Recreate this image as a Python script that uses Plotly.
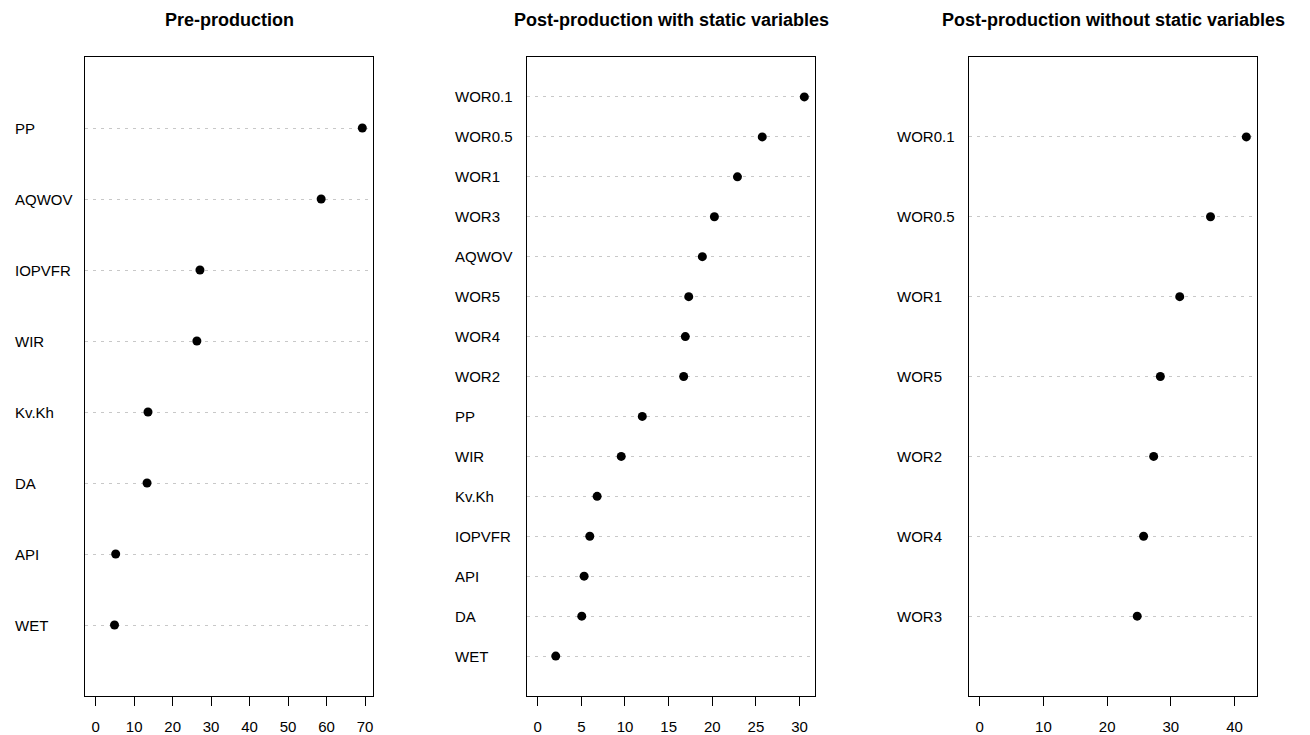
import plotly.graph_objects as go

W, H = 1310, 735

titles = ["Pre-production",
          "Post-production with static variables",
          "Post-production without static variables"]

pre_labels = ["PP", "AQWOV", "IOPVFR", "WIR", "Kv.Kh", "DA", "API", "WET"]
pre_values = [69.3, 58.6, 27.1, 26.3, 13.6, 13.35, 5.2, 4.9]

post_static_labels = ["WOR0.1", "WOR0.5", "WOR1", "WOR3", "AQWOV", "WOR5", "WOR4",
                      "WOR2", "PP", "WIR", "Kv.Kh", "IOPVFR", "API", "DA", "WET"]
post_static_values = [30.54, 25.72, 22.88, 20.24, 18.86, 17.3, 16.91,
                      16.72, 11.98, 9.57, 6.81, 5.97, 5.32, 5.05, 2.07]

post_nostatic_labels = ["WOR0.1", "WOR0.5", "WOR1", "WOR5", "WOR2", "WOR4", "WOR3"]
post_nostatic_values = [41.84, 36.22, 31.39, 28.35, 27.3, 25.72, 24.72]

x_dticks = [10, 5, 10]

panels = [(pre_labels, pre_values),
          (post_static_labels, post_static_values),
          (post_nostatic_labels, post_nostatic_values)]

# layout in pixels (styles / positions)
box_left = [85, 527, 969]
box_right = [373, 815, 1257]
label_left = [13, 453, 895]
box_top, box_bottom = 57, 696
FONT = "Liberation Sans, Arial, Helvetica, sans-serif"

fig = go.Figure()
annotations = []
ydom = [1 - box_bottom / H, 1 - box_top / H]

for i, (labels, values) in enumerate(panels):
    n = len(labels)
    rows = [n - k for k in range(n)]
    ax = "" if i == 0 else str(i + 1)
    xref, yref = "x" + ax, "y" + ax
    fig.add_trace(go.Scatter(
        x=values, y=rows, mode="markers",
        marker=dict(color="black", size=9),
        xaxis=xref, yaxis=yref, showlegend=False, hoverinfo="x+text",
        text=labels))
    vmax = max(values)
    pad = 0.04 * vmax
    xa = dict(domain=[box_left[i] / W, box_right[i] / W],
              range=[-pad, vmax + pad],
              tick0=0, dtick=x_dticks[i],
              ticks="outside", ticklen=9, tickwidth=1, tickcolor="black",
              ticklabelstandoff=8,
              showline=True, linecolor="black", linewidth=1, mirror=True,
              showgrid=False, zeroline=False,
              tickfont=dict(family=FONT, size=15, color="black"),
              anchor=yref)
    ya = dict(domain=ydom, range=[0, n + 1],
              tickvals=rows, showticklabels=False, ticks="",
              showline=True, linecolor="black", linewidth=1, mirror=True,
              showgrid=True, gridcolor="#c8c8c8", gridwidth=1, griddash="3px,5px",
              zeroline=False, anchor=xref)
    fig.update_layout(**{"xaxis" + ax: xa, "yaxis" + ax: ya})
    for lab, r in zip(labels, rows):
        annotations.append(dict(text=lab, xref="paper", yref=yref,
                                x=label_left[i] / W, y=r, xanchor="left",
                                yanchor="middle", showarrow=False,
                                font=dict(family=FONT, size=15, color="black")))
    annotations.append(dict(text="<b>" + titles[i] + "</b>", xref="paper", yref="paper",
                            x=(box_left[i] + box_right[i]) / 2 / W, y=1 - 20 / H,
                            xanchor="center", yanchor="middle", showarrow=False,
                            font=dict(family=FONT, size=18, color="black")))

fig.update_layout(width=W, height=H, margin=dict(l=0, r=0, t=0, b=0),
                  paper_bgcolor="white", plot_bgcolor="white",
                  annotations=annotations)

fig.write_html("out.html")
